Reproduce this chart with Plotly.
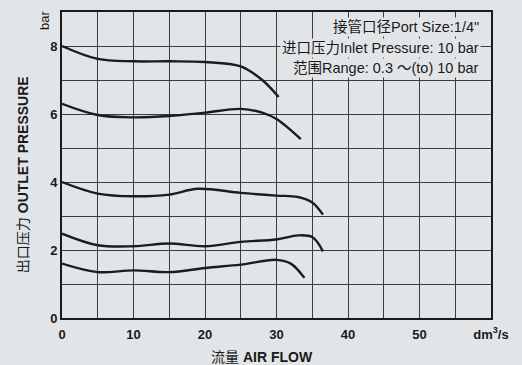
import plotly.graph_objects as go

# Curves: air flow (dm3/s) vs outlet pressure (bar)
flow_8 = [0, 5, 10, 15, 20, 25, 28, 30.3]
pres_8 = [8.0, 7.62, 7.55, 7.55, 7.53, 7.4, 7.0, 6.5]

flow_6 = [0, 5, 10, 15, 20, 25, 28, 30, 33.4]
pres_6 = [6.3, 5.97, 5.9, 5.94, 6.04, 6.15, 6.04, 5.85, 5.26]

flow_4 = [0, 5, 10, 15, 19, 25, 30, 33, 35, 36.5]
pres_4 = [4.0, 3.66, 3.58, 3.63, 3.8, 3.68, 3.6, 3.56, 3.4, 3.04]

flow_2 = [0, 5, 10, 15, 20, 25, 30, 33, 35, 36.5]
pres_2 = [2.48, 2.14, 2.11, 2.19, 2.11, 2.24, 2.31, 2.43, 2.38, 1.96]

flow_1 = [0, 5, 10, 15, 20, 25, 30, 32, 33.9]
pres_1 = [1.6, 1.35, 1.4, 1.35, 1.47, 1.57, 1.71, 1.6, 1.18]

x_ticks = [0, 5, 10, 15, 20, 25, 30, 35, 40, 45, 50, 55, 60]
x_ticklabels = ["0", "", "10", "", "20", "", "30", "", "40", "", "50", "", "dm<sup>3</sup>/s"]
y_ticks = [0, 1, 2, 3, 4, 5, 6, 7, 8, 9]
y_ticklabels = ["0", "", "2", "", "4", "", "6", "", "8", ""]

info_lines = ["接管口径Port Size:1/4\"", "进口压力Inlet Pressure: 10 bar", "范围Range: 0.3 ～(to) 10 bar"]

BG = "#e2e5e7"
LINE = "#1c1c1c"
FONT = "Liberation Sans, Noto Sans CJK SC, sans-serif"

fig = go.Figure()
for fx, py in [(flow_8, pres_8), (flow_6, pres_6), (flow_4, pres_4), (flow_2, pres_2), (flow_1, pres_1)]:
    fig.add_trace(go.Scatter(x=fx, y=py, mode="lines",
                             line=dict(color=LINE, width=2.4, shape="spline", smoothing=1.0),
                             showlegend=False, hoverinfo="skip"))

font_tick = dict(family=FONT, size=13, color="#1a1a1a")

fig.update_layout(
    template="none",
    width=522, height=365,
    margin=dict(l=62, r=31, t=12, b=47),
    paper_bgcolor=BG, plot_bgcolor=BG,
    xaxis=dict(range=[0, 60], tickmode="array", tickvals=x_ticks,
               ticktext=["<b>%s</b>" % t if t else " " for t in x_ticklabels],
               tickfont=font_tick, showgrid=True, gridcolor="#3c3c3c", gridwidth=1,
               showline=True, linecolor="#1a1a1a", linewidth=2, mirror=True,
               zeroline=False, ticks="", ticklabelstandoff=3, layer="below traces"),
    yaxis=dict(range=[0, 9], tickmode="array", tickvals=y_ticks,
               ticktext=["<b>%s</b>" % t if t else " " for t in y_ticklabels],
               tickfont=font_tick, showgrid=True, gridcolor="#3c3c3c", gridwidth=1,
               showline=True, linecolor="#1a1a1a", linewidth=2, mirror=True,
               zeroline=False, ticks="", layer="below traces"),
)

# bar unit label
fig.add_annotation(x=0, y=9, xref="x", yref="y", text="bar", showarrow=False,
                   textangle=-90, xanchor="right", yanchor="top", xshift=-8, yshift=3,
                   font=dict(family=FONT, size=13, color="#1a1a1a"))

# axis titles
fig.add_annotation(xref="paper", yref="paper", x=-0.091, y=0.47, text="出口压力 <b>OUTLET PRESSURE</b>",
                   textangle=-90, showarrow=False, xanchor="center", yanchor="middle",
                   font=dict(family=FONT, size=14, color="#1a1a1a"))
fig.add_annotation(xref="paper", yref="paper", x=0.466, y=-0.128, text="流量 <b>AIR FLOW</b>",
                   showarrow=False, xanchor="center", yanchor="middle",
                   font=dict(family=FONT, size=14, color="#1a1a1a"))

# info text
for i, t in enumerate(info_lines):
    fig.add_annotation(xref="paper", yref="paper", x=0.977, y=1 - (15 + 20.5 * i) / 306,
                       text=t, showarrow=False, xanchor="right", yanchor="middle",
                       bgcolor=BG, borderpad=1,
                       font=dict(family=FONT, size=14.5, color="#1a1a1a"))

fig.write_html("out.html", config={"displayModeBar": False},
               post_script="document.body.style.margin='0';document.body.style.background='%s';" % BG)
